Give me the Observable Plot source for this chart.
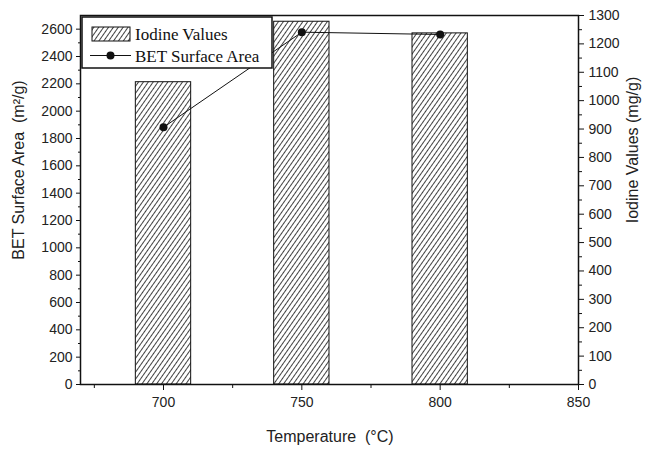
<!DOCTYPE html>
<html>
<head>
<meta charset="utf-8">
<script src="https://cdn.jsdelivr.net/npm/d3@7"></script>
<script src="https://cdn.jsdelivr.net/npm/@observablehq/plot@0.6"></script>
<style>
  html, body { margin: 0; padding: 0; background: white; }
  #chart { width: 648px; height: 449px; }
</style>
</head>
<body>
<div id="chart"></div>
<script>
// ---- data ----
const temperatures = [700, 750, 800];
const iodineValues = [1065, 1278, 1237];      // mg/g (right axis, bars)
const betSurface = [1882, 2578, 2561];        // m2/g (left axis, line)
const betTicks = [0, 200, 400, 600, 800, 1000, 1200, 1400, 1600, 1800, 2000, 2200, 2400, 2600];
const iodineTicks = [0, 100, 200, 300, 400, 500, 600, 700, 800, 900, 1000, 1100, 1200, 1300];
const tempTicks = [700, 750, 800, 850];
const tempMinorTicks = [675, 725, 775, 825];
const barHalfWidth = 10;

const betMax = 2700, iodineMax = 1300;
const k = betMax / iodineMax; // maps right-axis values onto left scale

const rows = temperatures.map((t, i) => ({t, iod: iodineValues[i], bet: betSurface[i]}));
const betMinor = betTicks.slice(0, -1).map(v => v + 100);
const iodMinor = iodineTicks.slice(0, -1).map(v => (v + 50) * k);

const plot = Plot.plot({
  width: 648, height: 449,
  marginLeft: 80, marginRight: 70, marginTop: 15, marginBottom: 65,
  x: {domain: [670, 850]},
  y: {domain: [0, betMax]},
  style: {fontFamily: "'Liberation Sans', Arial, sans-serif", fontSize: "14px", color: "#222", background: "white"},
  marks: [
    Plot.rect(rows, {x1: d => d.t - barHalfWidth, x2: d => d.t + barHalfWidth, y1: 0, y2: d => d.iod * k,
      fill: "url(#hatch)", stroke: "#111", strokeWidth: 1}),
    Plot.line(rows, {x: "t", y: "bet", stroke: "#111", strokeWidth: 1}),
    Plot.dot(rows, {x: "t", y: "bet", r: 4, fill: "#111", stroke: "none"}),
    Plot.axisY(betTicks, {anchor: "left", tickSize: 4, tickPadding: 4, label: null, stroke: "#111",
      tickFormat: v => String(v)}),
    Plot.axisY(betMinor, {anchor: "left", tickSize: 2, tickFormat: () => "", label: null, stroke: "#111"}),
    Plot.axisY(iodineTicks.map(v => v * k), {anchor: "right", tickSize: 5, tickPadding: 5, label: null,
      tickFormat: v => String(Math.round(v / k)), stroke: "#111"}),
    Plot.axisY(iodMinor, {anchor: "right", tickSize: 3, tickFormat: () => "", label: null, stroke: "#111"}),
    Plot.axisX(tempTicks, {anchor: "bottom", tickSize: 6, tickPadding: 7, label: null, stroke: "#111",
      tickFormat: v => String(v)}),
    Plot.axisX(tempMinorTicks, {anchor: "bottom", tickSize: 4, tickFormat: () => "", label: null, stroke: "#111"}),
    Plot.frame({stroke: "#111", strokeWidth: 1.5})
  ]
});

const svg = d3.select(plot);
const defs = svg.insert("defs", ":first-child");
const pat = defs.append("pattern").attr("id", "hatch").attr("patternUnits", "userSpaceOnUse")
  .attr("width", 4).attr("height", 4).attr("patternTransform", "rotate(35)");
pat.append("rect").attr("width", 4).attr("height", 4).attr("fill", "white");
pat.append("line").attr("x1", 0.5).attr("y1", 0).attr("x2", 0.5).attr("y2", 4)
  .attr("stroke", "#111").attr("stroke-width", 0.8);

// Legend (opaque box above the line)
const serif = "'Liberation Serif', 'Times New Roman', serif";
const lg = svg.append("g").attr("text-anchor", "start");
lg.append("rect").attr("x", 82).attr("y", 17).attr("width", 190).attr("height", 51)
  .attr("fill", "white").attr("stroke", "#111").attr("stroke-width", 1.5);
lg.append("rect").attr("x", 92).attr("y", 27).attr("width", 38).attr("height", 14)
  .attr("fill", "url(#hatch)").attr("stroke", "#111").attr("stroke-width", 1);
lg.append("text").attr("x", 135).attr("y", 39.5).attr("text-anchor", "start").text("Iodine Values")
  .attr("font-family", serif).attr("font-size", 17).attr("fill", "#111");
lg.append("line").attr("x1", 90).attr("x2", 131).attr("y1", 55.5).attr("y2", 55.5)
  .attr("stroke", "#111").attr("stroke-width", 1.2);
lg.append("circle").attr("cx", 110.5).attr("cy", 55.5).attr("r", 4).attr("fill", "#111");
lg.append("text").attr("x", 135).attr("y", 61.5).attr("text-anchor", "start").text("BET Surface Area")
  .attr("font-family", serif).attr("font-size", 17).attr("fill", "#111");

// Axis titles
const titleFont = "'Liberation Sans', Arial, sans-serif";
svg.append("text").attr("transform", "translate(24,170) rotate(-90)").attr("text-anchor", "middle")
  .attr("font-family", titleFont).attr("font-size", 16).attr("fill", "#222")
  .text("BET Surface Area\u00a0\u00a0(m\u00b2/g)");
svg.append("text").attr("transform", "translate(638,150) rotate(-90)").attr("text-anchor", "middle")
  .attr("font-family", titleFont).attr("font-size", 16).attr("fill", "#222")
  .text("Iodine Values (mg/g)");
svg.append("text").attr("x", 330).attr("y", 442).attr("text-anchor", "middle")
  .attr("font-family", titleFont).attr("font-size", 16).attr("fill", "#222")
  .text("Temperature\u00a0\u00a0(\u00b0C)");

document.getElementById("chart").appendChild(plot);
</script>
</body>
</html>
